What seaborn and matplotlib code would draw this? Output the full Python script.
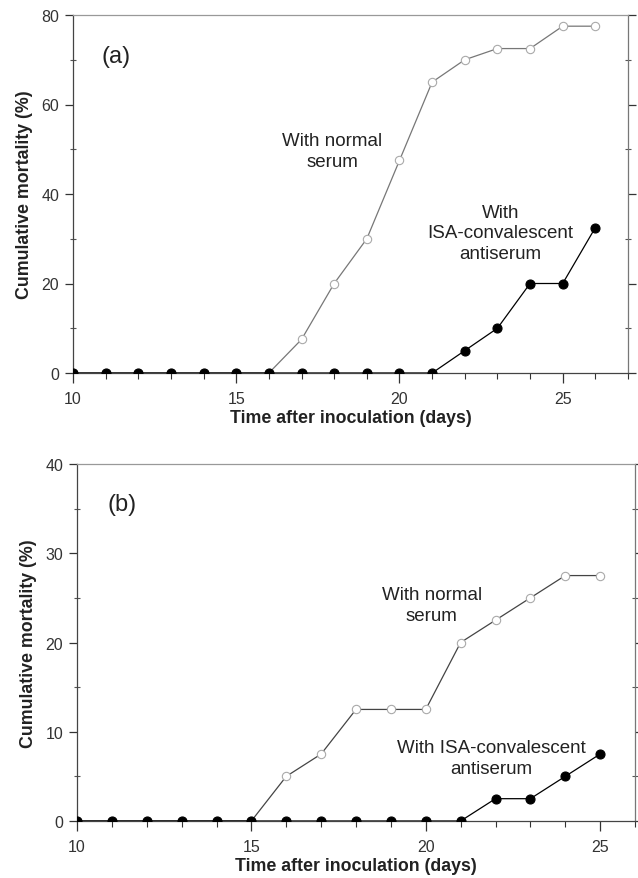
import matplotlib
matplotlib.use("Agg")
import matplotlib.pyplot as plt
from matplotlib.ticker import MultipleLocator
import seaborn as sns
import pandas as pd

# ---- data ----
days_a = list(range(10, 27))
normal_a = [0, 0, 0, 0, 0, 0, 0, 7.5, 20, 30, 47.5, 65, 70, 72.5, 72.5, 77.5, 77.5]
anti_a = [0, 0, 0, 0, 0, 0, 0, 0, 0, 0, 0, 0, 5, 10, 20, 20, 32.5]

days_b = list(range(10, 26))
normal_b = [0, 0, 0, 0, 0, 0, 5, 7.5, 12.5, 12.5, 12.5, 20, 22.5, 25, 27.5, 27.5]
anti_b = [0, 0, 0, 0, 0, 0, 0, 0, 0, 0, 0, 0, 2.5, 2.5, 5, 7.5]

xlabel = "Time after inoculation (days)"
ylabel = "Cumulative mortality (%)"

sns.set_style("ticks")
plt.rcParams["font.family"] = ["Liberation Sans", "DejaVu Sans"]

fig = plt.figure(figsize=(6.38, 8.79), dpi=100)
W, H = 638, 879
ax1 = fig.add_axes([73 / W, 1 - 374 / H, (628 - 73) / W, (374 - 16) / H])
ax2 = fig.add_axes([77 / W, 1 - 822 / H, (635 - 77) / W, (822 - 465) / H])


def draw(ax, days, normal, anti, ncolor):
    df = pd.DataFrame({"day": days, "normal": normal, "anti": anti})
    sns.lineplot(data=df, x="day", y="normal", ax=ax, color=ncolor, lw=0.9,
                 marker="o", markersize=6, markerfacecolor="white",
                 markeredgecolor="#aaaaaa", markeredgewidth=0.8, zorder=2)
    sns.lineplot(data=df, x="day", y="anti", ax=ax, color="black", lw=0.9,
                 marker="o", markersize=6.5, markerfacecolor="black",
                 markeredgecolor="black", markeredgewidth=0.8, zorder=3)


def style(ax, xmax, ymax, ymaj, ymin):
    ax.set_xlim(10, xmax)
    ax.set_ylim(0, ymax)
    ax.xaxis.set_major_locator(MultipleLocator(5))
    ax.xaxis.set_minor_locator(MultipleLocator(1))
    ax.yaxis.set_major_locator(MultipleLocator(ymaj))
    ax.yaxis.set_minor_locator(MultipleLocator(ymin))
    ax.tick_params(axis="x", which="major", direction="out", length=7,
                   width=0.9, color="#333333", labelsize=11.5,
                   labelcolor="#333333", pad=6)
    ax.tick_params(axis="x", which="minor", direction="out", length=4,
                   width=0.8, color="#333333")
    ax.tick_params(axis="y", which="major", direction="out", length=6,
                   width=0.9, color="#333333", labelsize=11.5,
                   labelcolor="#333333", right=True, pad=4)
    ax.tick_params(axis="y", which="minor", direction="inout", length=4,
                   width=0.8, color="#555555", right=True)
    for s in ["left", "bottom", "top", "right"]:
        ax.spines[s].set_visible(True)
        ax.spines[s].set_linewidth(0.9)
    ax.spines["left"].set_color("#444444")
    ax.spines["bottom"].set_color("#444444")
    ax.spines["top"].set_color("#999999")
    ax.spines["right"].set_color("#777777")
    ax.set_xlabel(xlabel, fontsize=12.8, fontweight="bold", color="#222222",
                  labelpad=2)
    ax.set_ylabel(ylabel, fontsize=12.8, fontweight="bold", color="#222222",
                  labelpad=6)


draw(ax1, days_a, normal_a, anti_a, "#777777")
style(ax1, 27, 80, 20, 10)
ax1.text(11.33, 70.8, "(a)", fontsize=17, ha="center", va="center", color="#222222")
ax1.text(17.95, 49.6, "With normal\nserum", fontsize=13.5, ha="center",
         va="center", color="#222222", linespacing=1.25)
ax1.text(23.1, 31.3, "With\nISA-convalescent\nantiserum", fontsize=13.5,
         ha="center", va="center", color="#222222", linespacing=1.25)

draw(ax2, days_b, normal_b, anti_b, "#444444")
style(ax2, 26, 40, 10, 5)
ax2.text(11.3, 35.5, "(b)", fontsize=17, ha="center", va="center", color="#222222")
ax2.text(20.17, 24.2, "With normal\nserum", fontsize=13.5, ha="center",
         va="center", color="#222222", linespacing=1.25)
ax2.text(21.87, 7.06, "With ISA-convalescent\nantiserum", fontsize=13.5,
         ha="center", va="center", color="#222222", linespacing=1.25)

fig.savefig("out.png", dpi=100)
